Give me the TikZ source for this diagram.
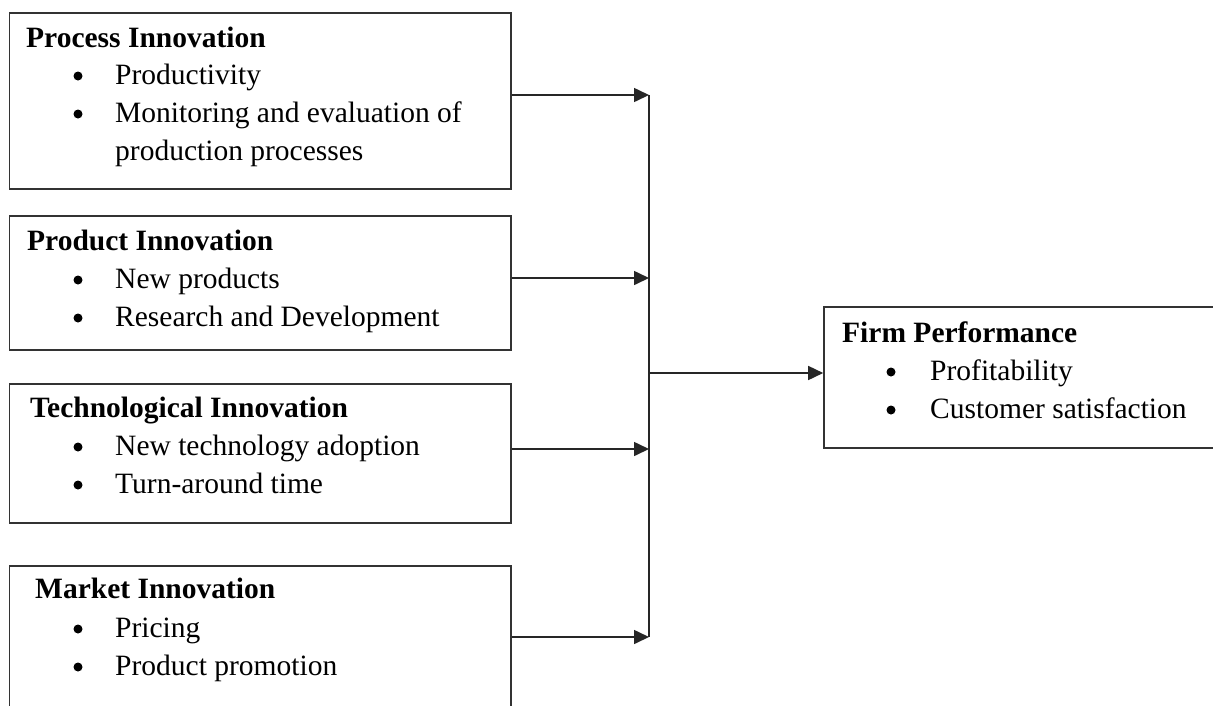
\documentclass[tikz,border=0pt]{standalone}
\usepackage{fontspec}
\setmainfont{Liberation Serif}
\usetikzlibrary{arrows.meta}
\begin{document}
\begin{tikzpicture}[x=1pt,y=-1pt,
  box/.style={draw=black!80, line width=1.6pt, rectangle, inner sep=0pt},
  head/.style={anchor=base west, inner sep=0pt, font=\fontsize{29.5}{34}\selectfont\bfseries},
  item/.style={anchor=base west, inner sep=0pt, font=\fontsize{29.5}{34}\selectfont},
  dot/.style={circle, fill=black, inner sep=0pt, minimum size=9pt},
  arr/.style={draw=black!85, line width=1.6pt, -{Triangle[length=15pt,width=14pt]}},
  ln/.style={draw=black!85, line width=1.6pt}]
\useasboundingbox (0,0) rectangle (1213,705);
\fill[white] (0,0) rectangle (1213,705);
% boxes
\node[box, minimum width=501.5pt, minimum height=176pt] (b1) at (260.25,101) {};
\node[box, minimum width=501.5pt, minimum height=134pt] (b2) at (260.25,283) {};
\node[box, minimum width=501.5pt, minimum height=139pt] (b3) at (260.25,453.5) {};
\node[box, minimum width=501.5pt, minimum height=160pt] (b4) at (260.25,646) {};
\node[box, minimum width=401pt, minimum height=141pt] (fp) at (1024.5,377.5) {};
% texts box 1
\node[head] (h1) at (26,47) {Process Innovation};
\node[dot] (d11) at (78,76) {};
\node[item] (t11) at (115,84) {Productivity};
\node[dot] (d12) at (78,114) {};
\node[item] (t12) at (115,122) {Monitoring and evaluation of};
\node[item] (t13) at (115,160) {production processes};
% box 2
\node[head] (h2) at (27,250) {Product Innovation};
\node[dot] (d21) at (78,280) {};
\node[item] (t21) at (115,288) {New products};
\node[dot] (d22) at (78,318) {};
\node[item] (t22) at (115,326) {Research and Development};
% box 3
\node[head] (h3) at (30,417) {Technological Innovation};
\node[dot] (d31) at (78,447) {};
\node[item] (t31) at (115,455) {New technology adoption};
\node[dot] (d32) at (78,485) {};
\node[item] (t32) at (115,493) {Turn-around time};
% box 4
\node[head] (h4) at (35,598) {Market Innovation};
\node[dot] (d41) at (78,629) {};
\node[item] (t41) at (115,637) {Pricing};
\node[dot] (d42) at (78,667) {};
\node[item] (t42) at (115,675) {Product promotion};
% firm performance
\node[head] (h5) at (842,342) {Firm Performance};
\node[dot] (d51) at (891,372) {};
\node[item] (t51) at (930,380) {Profitability};
\node[dot] (d52) at (891,410) {};
\node[item] (t52) at (930,418) {Customer satisfaction};
% junctions
\coordinate (j1) at (649,95);
\coordinate (j2) at (649,278);
\coordinate (j3) at (649,449);
\coordinate (j4) at (649,637);
\coordinate (jm) at (649,373);
\draw[ln] (j1) -- (j4);
\draw[arr] (b1.east |- j1) -- (j1);
\draw[arr] (b2.east |- j2) -- (j2);
\draw[arr] (b3.east |- j3) -- (j3);
\draw[arr] (b4.east |- j4) -- (j4);
\draw[arr] (jm) -- (fp.west |- jm);
\end{tikzpicture}
\end{document}
